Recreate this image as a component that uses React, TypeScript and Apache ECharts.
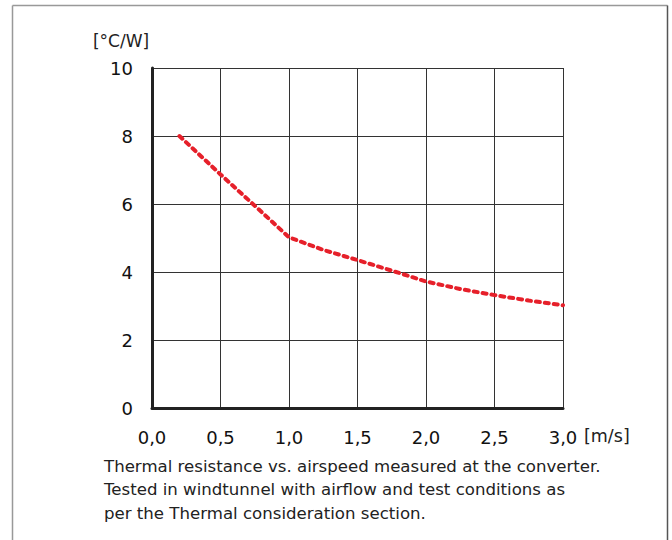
import React, { useEffect, useRef } from "react";
import * as echarts from "echarts";

const airspeed = [0.2, 0.5, 0.75, 1.0, 1.25, 1.5, 1.75, 2.0, 2.25, 2.5, 2.75, 3.0];
const resistance = [8.0, 6.87, 5.95, 5.02, 4.65, 4.35, 4.04, 3.72, 3.5, 3.32, 3.16, 3.02];
const yUnit = "[°C/W]";
const xUnit = "[m/s]";
const captionLines = [
  "Thermal resistance vs. airspeed measured at the converter.",
  "Tested in windtunnel with airflow and test conditions as",
  "per the Thermal consideration section.",
];

const FONT = "'DejaVu Sans', 'Liberation Sans', Arial, sans-serif";

export default function App() {
  const ref = useRef<HTMLDivElement>(null);
  useEffect(() => {
    if (!ref.current) return;
    const chart = echarts.init(ref.current, null, { renderer: "svg" });
    const data = airspeed.map((x, i) => [x, resistance[i]]);
    chart.setOption({
      animation: false,
      backgroundColor: "#ffffff",
      grid: { left: 152, right: 109, top: 68, bottom: 132, containLabel: false },
      xAxis: {
        type: "value",
        min: 0,
        max: 3,
        interval: 0.5,
        axisLine: { show: true, onZero: false, lineStyle: { color: "#222", width: 3 } },
        axisTick: { show: false },
        axisLabel: {
          margin: 20,
          fontSize: 18,
          color: "#111",
          fontFamily: FONT,
          formatter: (v: number) => v.toFixed(1).replace(".", ","),
        },
        splitLine: { show: true, lineStyle: { color: "#333", width: 1 } },
      },
      yAxis: {
        type: "value",
        min: 0,
        max: 10,
        interval: 2,
        axisLine: { show: true, onZero: false, lineStyle: { color: "#222", width: 3 } },
        axisTick: { show: false },
        axisLabel: { margin: 19, fontSize: 18, color: "#111", fontFamily: FONT },
        splitLine: { show: true, lineStyle: { color: "#333", width: 1 } },
      },
      graphic: [
        { type: "line", shape: { x1: 12.5, y1: 5.5, x2: 667.5, y2: 5.5 }, style: { stroke: "#999", lineWidth: 1.5 } },
        { type: "line", shape: { x1: 12.5, y1: 5.5, x2: 12.5, y2: 540 }, style: { stroke: "#999", lineWidth: 1.5 } },
        { type: "line", shape: { x1: 667.5, y1: 5.5, x2: 667.5, y2: 540 }, style: { stroke: "#555", lineWidth: 1.5 } },
        {
          type: "text",
          x: 121,
          y: 41,
          style: { text: yUnit, fontSize: 17, fill: "#222", fontFamily: FONT, textAlign: "center", textVerticalAlign: "middle" },
        },
        {
          type: "text",
          x: 584,
          y: 436,
          style: { text: xUnit, fontSize: 17.5, fill: "#222", fontFamily: FONT, textAlign: "left", textVerticalAlign: "middle" },
        },
        ...captionLines.map((t, i) => ({
          type: "text",
          x: 104,
          y: 466 + i * 23.5,
          style: { text: t, fontSize: 16.6, fill: "#222", fontFamily: FONT, textAlign: "left", textVerticalAlign: "middle" },
        })),
      ],
      series: [
        {
          type: "line",
          data,
          showSymbol: false,
          smooth: false,
          lineStyle: { color: "#e6202a", width: 4, type: [4, 5], cap: "round" },
        },
      ],
    });
    return () => chart.dispose();
  }, []);
  return <div ref={ref} style={{ position: "fixed", left: 0, top: 0, width: 672, height: 540 }} />;
}
